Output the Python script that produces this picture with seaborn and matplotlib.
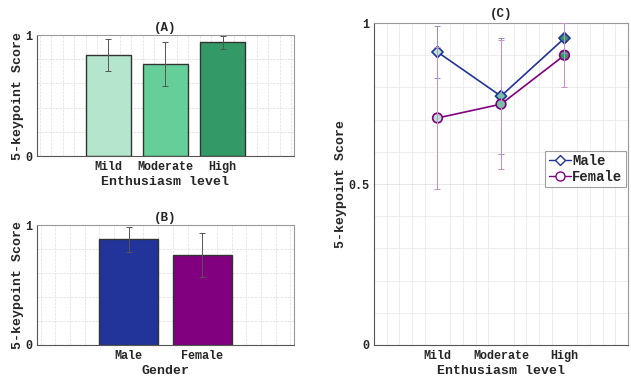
import numpy as np
import pandas as pd
import seaborn as sns
import matplotlib.pyplot as plt
from matplotlib.lines import Line2D

# values
levels = ["Mild", "Moderate", "High"]
level_mean = [0.835, 0.76, 0.94]
level_err = [0.13, 0.18, 0.055]
level_colors = ["#b3e6cc", "#66cf99", "#339966"]

genders = ["Male", "Female"]
gender_mean = [0.883, 0.75]
gender_err = [0.105, 0.185]
gender_colors = ["#223399", "#800080"]

male_mean = [0.91, 0.773, 0.953]
male_err = [0.082, 0.18, 0.047]
female_mean = [0.705, 0.748, 0.90]
female_err = [0.22, 0.20, 0.10]

sns.set_style("white")
plt.rcParams['font.family'] = ['Liberation Mono', 'DejaVu Sans Mono']
plt.rcParams['font.weight'] = 'bold'
plt.rcParams['axes.labelweight'] = 'bold'
plt.rcParams['axes.titleweight'] = 'bold'

fig = plt.figure(figsize=(6.31, 3.77), dpi=100)
axA = fig.add_axes([0.0586, 0.586, 0.4073, 0.321])
axB = fig.add_axes([0.0586, 0.0849, 0.4073, 0.318])
axC = fig.add_axes([0.5927, 0.0849, 0.4025, 0.854])


def style_axis(ax, yticks, yminor, xlim, xminor):
    ax.set_ylim(0, 1)
    ax.set_xlim(*xlim)
    ax.set_yticks(yticks)
    ax.set_yticklabels([f"{t:g}" for t in yticks], fontsize=8.5)
    ax.set_yticks(yminor, minor=True)
    ax.set_xticks(xminor, minor=True)
    ax.tick_params(axis='both', which='both', direction='in', length=3,
                   color='#555555', labelsize=8.5)
    ax.tick_params(axis='both', which='minor', length=1.5)
    ax.grid(True, which='minor', color='#dddddd', linestyle='--', linewidth=0.5)
    ax.grid(True, which='major', axis='y', color='#dddddd', linestyle='-', linewidth=0.5)
    ax.set_axisbelow(True)
    for s in ax.spines.values():
        s.set_color('#999999')
        s.set_linewidth(0.8)
    ax.spines['left'].set_color('#555555')
    ax.spines['bottom'].set_color('#555555')


# (A) enthusiasm level bars
dfA = pd.DataFrame({"level": levels, "score": level_mean})
sns.barplot(data=dfA, x="level", y="score", hue="level", palette=level_colors,
            saturation=1, width=0.8, edgecolor="#333333", linewidth=1.0,
            legend=False, ax=axA)
axA.errorbar(range(len(levels)), level_mean, yerr=level_err, fmt='none',
             ecolor='#555555', elinewidth=0.7, capsize=2.5, capthick=0.7)
style_axis(axA, [0, 1], np.arange(0.2, 1.0, 0.2), (-1.25, 3.25),
           np.arange(-1.2, 3.3, 0.2))
axA.set_title("(A)", fontsize=9, pad=3)
axA.set_xlabel("Enthusiasm level", fontsize=9.5, labelpad=2)
axA.set_ylabel("5-keypoint Score", fontsize=9.5, labelpad=1)

# (B) gender bars
dfB = pd.DataFrame({"gender": genders, "score": gender_mean})
sns.barplot(data=dfB, x="gender", y="score", hue="gender", palette=gender_colors,
            saturation=1, width=0.8, edgecolor="#333333", linewidth=1.0,
            legend=False, ax=axB)
axB.errorbar(range(len(genders)), gender_mean, yerr=gender_err, fmt='none',
             ecolor='#555555', elinewidth=0.7, capsize=2.5, capthick=0.7)
style_axis(axB, [0, 1], np.arange(0.2, 1.0, 0.2), (-1.25, 2.25),
           np.arange(-1.2, 2.3, 0.2))
axB.set_title("(B)", fontsize=9, pad=3)
axB.set_xlabel("Gender", fontsize=9.5, labelpad=2)
axB.set_ylabel("5-keypoint Score", fontsize=9.5, labelpad=1)

# (C) gender x enthusiasm lines
pos = np.arange(len(levels))
dfC = pd.DataFrame({
    "pos": np.concatenate([pos, pos]),
    "score": male_mean + female_mean,
    "gender": ["Male"] * 3 + ["Female"] * 3,
})
sns.lineplot(data=dfC, x="pos", y="score", hue="gender", palette=gender_colors,
             hue_order=genders, linewidth=1.2, legend=False, ax=axC, zorder=2)
for g, mk, ms, ec in [("Male", 'D', 32, gender_colors[0]), ("Female", 'o', 48, gender_colors[1])]:
    sub = dfC[dfC.gender == g]
    sns.scatterplot(x=sub["pos"], y=sub["score"], hue=levels, palette=level_colors,
                    marker=mk, s=ms, edgecolor=ec, linewidth=1.2, legend=False,
                    ax=axC, zorder=3)
axC.errorbar(pos, male_mean, yerr=male_err, fmt='none', ecolor='#8f8fc8',
             elinewidth=0.7, capsize=2.5, capthick=0.7, zorder=4)
axC.errorbar(pos, female_mean, yerr=female_err, fmt='none', ecolor='#c98fc9',
             elinewidth=0.7, capsize=2.5, capthick=0.7, zorder=4)
style_axis(axC, [0, 0.5, 1], np.arange(0.1, 1.0, 0.1), (-1, 3),
           np.arange(-0.8, 3.0, 0.2))
axC.grid(True, which='minor', color='#e6e6e6', linestyle='-', linewidth=0.5)
axC.set_xticks(pos)
axC.set_xticklabels(levels)
axC.set_title("(C)", fontsize=9, pad=4)
axC.set_xlabel("Enthusiasm level", fontsize=9.5, labelpad=2)
axC.set_ylabel("5-keypoint Score", fontsize=9.5, labelpad=1)

handles = [
    Line2D([], [], color=gender_colors[0], marker='D', markersize=5.5,
           markerfacecolor='white', markeredgewidth=1.0, linewidth=1.0),
    Line2D([], [], color=gender_colors[1], marker='o', markersize=6.5,
           markerfacecolor='white', markeredgewidth=1.0, linewidth=1.0),
]
leg = axC.legend(handles, genders, loc='upper right', bbox_to_anchor=(1.0, 0.61),
                 borderaxespad=0.15, frameon=True, fancybox=False, handlelength=1.6,
                 handletextpad=0.1, borderpad=0.25, labelspacing=0.1,
                 prop={'family': 'Liberation Mono', 'weight': 'bold', 'size': 10})
leg.get_frame().set_edgecolor('#888888')
leg.get_frame().set_linewidth(0.8)

fig.savefig("out.png", dpi=100)
